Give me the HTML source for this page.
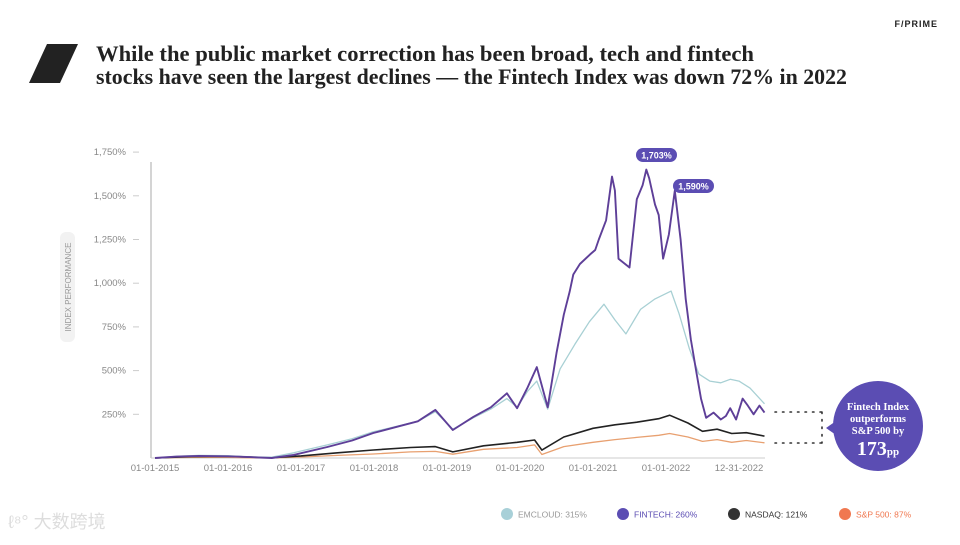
<!DOCTYPE html>
<html><head><meta charset="utf-8">
<style>
html,body{margin:0;padding:0;background:#fff;}
body{width:960px;height:540px;overflow:hidden;font-family:"Liberation Sans",sans-serif;}
svg text{font-family:"Liberation Sans",sans-serif;}
</style></head>
<body>
<svg id="chart" width="960" height="540" viewBox="0 0 960 540">
  <text x="938" y="27" font-size="9" font-weight="bold" fill="#222" text-anchor="end" letter-spacing="1">F/PRIME</text>
  <polygon points="47,44 78,44 60,83 29,83" fill="#222"/>
  <text x="96" y="61" font-size="22" font-weight="bold" fill="#222" textLength="658" lengthAdjust="spacingAndGlyphs" style="font-family:'Liberation Serif',serif">While the public market correction has been broad, tech and fintech</text>
  <text x="96" y="84" font-size="22" font-weight="bold" fill="#222" textLength="751" lengthAdjust="spacingAndGlyphs" style="font-family:'Liberation Serif',serif">stocks have seen the largest declines — the Fintech Index was down 72% in 2022</text>

  <rect x="60" y="232" width="15" height="110" rx="6" fill="#f2f2f2"/>
  <text transform="translate(71,287) rotate(-90)" font-size="8" fill="#999" text-anchor="middle">INDEX PERFORMANCE</text>

  <g id="yaxis"></g>
  <g id="xaxis"></g>
  <line x1="151" y1="162" x2="151" y2="458" stroke="#aaa" stroke-width="1"/>
  <line x1="151" y1="458" x2="765" y2="458" stroke="#ccc" stroke-width="1"/>
  <g id="series"></g>

  <g>
    <rect x="636" y="148" width="41" height="14" rx="7" fill="#5b4db3"/>
    <text x="656.5" y="158.5" font-size="9" font-weight="bold" fill="#fff" text-anchor="middle">1,703%</text>
  </g>
  <g>
    <rect x="673" y="179" width="41" height="14" rx="7" fill="#5b4db3"/>
    <text x="693.5" y="189.5" font-size="9" font-weight="bold" fill="#fff" text-anchor="middle">1,590%</text>
  </g>

  <g stroke="#333" stroke-width="1.6" stroke-dasharray="1.5,6" stroke-linecap="round" fill="none">
    <line x1="775" y1="412" x2="822" y2="412"/>
    <line x1="775" y1="443" x2="822" y2="443"/>
    <line x1="822" y1="412" x2="822" y2="443"/>
  </g>
  <g>
    <polygon points="826,428 846,414 846,442" fill="#5b4db3"/>
    <circle cx="878" cy="426" r="45" fill="#5b4db3"/>
    <text x="878" y="410" font-size="10.5" font-weight="bold" fill="#fff" text-anchor="middle" style="font-family:'Liberation Serif',serif">Fintech Index</text>
    <text x="878" y="422" font-size="10.5" font-weight="bold" fill="#fff" text-anchor="middle" style="font-family:'Liberation Serif',serif">outperforms</text>
    <text x="878" y="434" font-size="10.5" font-weight="bold" fill="#fff" text-anchor="middle" style="font-family:'Liberation Serif',serif">S&amp;P 500 by</text>
    <text x="878" y="455" font-size="20" font-weight="bold" fill="#fff" text-anchor="middle" style="font-family:'Liberation Serif',serif">173<tspan font-size="11">pp</tspan></text>
  </g>

  <g id="legend"></g>
  <text x="8" y="528" font-size="18" fill="#ddd" style="font-family:'Liberation Sans','Noto Sans CJK SC',sans-serif">ℓ⁸° 大数跨境</text>
</svg>
<script>
const yTicks = [250, 500, 750, 1000, 1250, 1500, 1750];
const xTickLabels = ["01-01-2015","01-01-2016","01-01-2017","01-01-2018","01-01-2019","01-01-2020","01-01-2021","01-01-2022","12-31-2022"];
const xTickYears = [2015,2016,2017,2018,2019,2020,2021,2022,2023];

const fintechYears = [2015,2015.3,2015.6,2016,2016.3,2016.6,2016.9,2017.36,2017.7,2017.99,2018.3,2018.6,2018.84,2019.08,2019.36,2019.6,2019.82,2019.96,2020.1,2020.23,2020.38,2020.5,2020.6,2020.68,2020.73,2020.82,2020.96,2021.03,2021.08,2021.18,2021.26,2021.3,2021.35,2021.5,2021.6,2021.68,2021.73,2021.77,2021.85,2021.9,2021.96,2022.04,2022.12,2022.2,2022.27,2022.34,2022.42,2022.48,2022.55,2022.65,2022.75,2022.82,2022.88,2022.96,2023.05,2023.12,2023.2,2023.28,2023.35];
const fintechValues = [0,8,12,10,5,0,18,63,100,143,177,210,275,160,235,290,370,285,400,520,290,600,820,950,1050,1110,1165,1190,1250,1360,1610,1530,1140,1090,1480,1560,1650,1600,1450,1390,1140,1280,1530,1250,910,680,480,340,230,260,220,240,285,220,340,300,250,300,260];

const emcloudYears = [2015,2015.3,2015.6,2016,2016.3,2016.6,2016.9,2017.36,2017.7,2017.99,2018.3,2018.6,2018.84,2019.08,2019.36,2019.6,2019.82,2019.96,2020.1,2020.23,2020.38,2020.55,2020.75,2020.95,2021.15,2021.3,2021.45,2021.65,2021.85,2022.07,2022.18,2022.32,2022.45,2022.6,2022.75,2022.88,2023.0,2023.15,2023.35];
const emcloudValues = [0,10,15,14,6,5,30,75,110,150,180,210,265,165,230,280,340,290,380,440,280,510,650,780,880,790,710,850,910,955,825,625,480,440,430,450,440,400,310];

const nasdaqYears = [2015,2015.5,2016,2016.3,2016.6,2017,2017.5,2017.99,2018.5,2018.84,2019.08,2019.5,2019.96,2020.2,2020.3,2020.6,2021,2021.3,2021.6,2021.9,2022.05,2022.3,2022.5,2022.7,2022.9,2023.1,2023.35];
const nasdaqValues = [0,8,10,5,2,12,30,46,60,65,35,70,90,103,45,120,170,190,205,225,245,200,153,165,140,145,125];

const spYears = [2015,2015.5,2016,2016.3,2016.6,2017,2017.5,2017.99,2018.5,2018.84,2019.08,2019.5,2019.96,2020.2,2020.3,2020.6,2021,2021.3,2021.6,2021.9,2022.05,2022.3,2022.5,2022.7,2022.9,2023.1,2023.35];
const spValues = [0,4,4,1,0,6,15,23,35,38,22,50,60,75,20,65,90,105,118,130,140,120,95,105,90,100,87];

const legendLabels = ["EMCLOUD: 315%","FINTECH: 260%","NASDAQ: 121%","S&P 500: 87%"];

const NS = "http://www.w3.org/2000/svg";
function xScale(yr){ return 155 + (yr - 2015) * 73; }
function yScale(v){ return 458 - v * 0.1748; }

const yg = document.getElementById('yaxis');
yTicks.forEach(t => {
  const tx = document.createElementNS(NS,'text');
  
  
  tx.setAttribute('x',126); tx.setAttribute('y',yScale(t)+3);
  tx.setAttribute('font-size','9.5'); tx.setAttribute('fill','#888'); tx.setAttribute('text-anchor','end');
  tx.textContent = t.toLocaleString('en-US') + '%';
  yg.appendChild(tx);
  const ln = document.createElementNS(NS,'line');
  
  
  ln.setAttribute('x1',133); ln.setAttribute('x2',139); ln.setAttribute('y1',yScale(t)); ln.setAttribute('y2',yScale(t));
  ln.setAttribute('stroke','#ccc');
  yg.appendChild(ln);
});
const xg = document.getElementById('xaxis');
xTickLabels.forEach((l,i) => {
  const tx = document.createElementNS(NS,'text');
  
  
  tx.setAttribute('x',xScale(xTickYears[i])); tx.setAttribute('y',471);
  tx.setAttribute('font-size','9.5'); tx.setAttribute('fill','#888'); tx.setAttribute('text-anchor','middle');
  tx.textContent = l;
  xg.appendChild(tx);
});
const sg = document.getElementById('series');
function drawLine(years, vals, color, w, name){
  const p = document.createElementNS(NS,'polyline');
  
  
  p.setAttribute('points', years.map((y,i)=>xScale(y).toFixed(1)+','+yScale(vals[i]).toFixed(1)).join(' '));
  p.setAttribute('fill','none'); p.setAttribute('stroke',color); p.setAttribute('stroke-width',w);
  p.setAttribute('stroke-linejoin','round');
  sg.appendChild(p);
}
drawLine(spYears, spValues, '#e8a070', 1.3, 'sp500-line');
drawLine(nasdaqYears, nasdaqValues, '#222', 1.6, 'nasdaq-line');
drawLine(emcloudYears, emcloudValues, '#a8d0d4', 1.3, 'emcloud-line');
drawLine(fintechYears, fintechValues, '#5e3f98', 1.9, 'fintech-line');

const legendColors = ['#a8d0d8','#5b4db3','#333','#f07850'];
const legendText = ['#999','#5b4db3','#333','#f07850'];
const legendX = [507,623,734,845];
const lg = document.getElementById('legend');
legendLabels.forEach((l,i)=>{
  const c = document.createElementNS(NS,'circle');
  
  
  c.setAttribute('cx',legendX[i]); c.setAttribute('cy',514); c.setAttribute('r',6); c.setAttribute('fill',legendColors[i]);
  lg.appendChild(c);
  const t = document.createElementNS(NS,'text');
  
  
  t.setAttribute('x',legendX[i]+11); t.setAttribute('y',517.5); t.setAttribute('font-size','8.5'); t.setAttribute('fill',legendText[i]);
  t.textContent = l;
  lg.appendChild(t);
});
</script>
</body></html>
